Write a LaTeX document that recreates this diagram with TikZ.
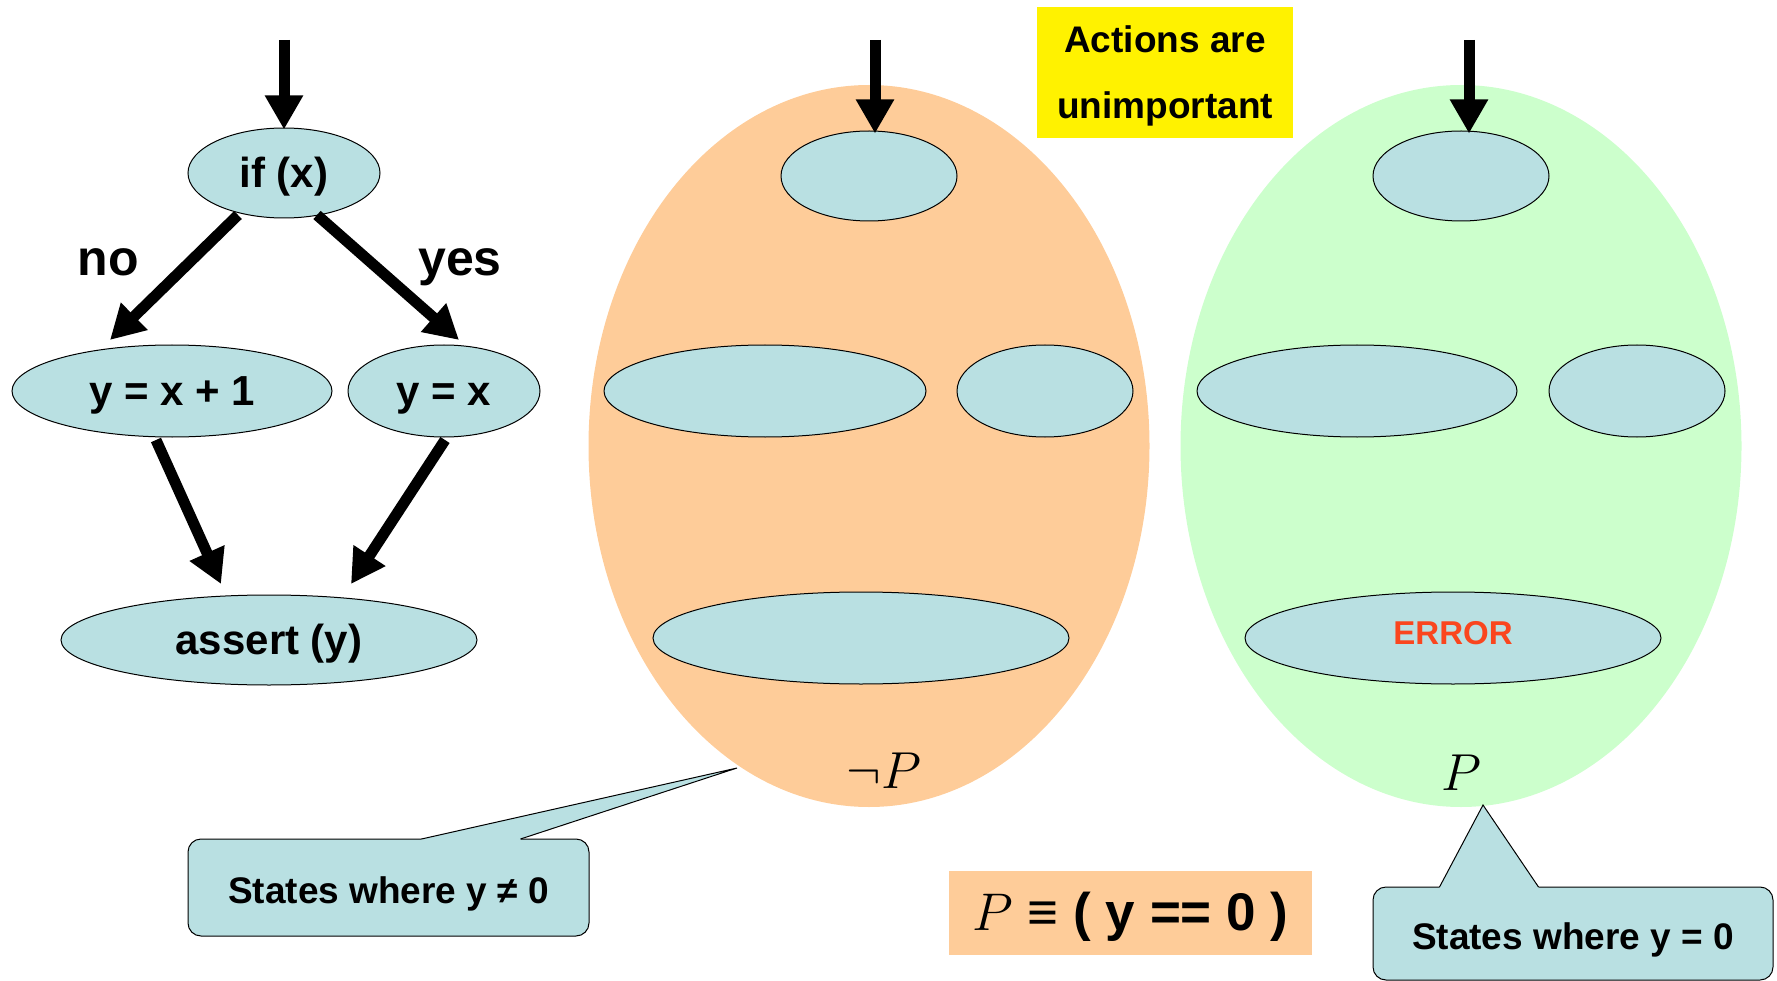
\RequirePackage{fix-cm}
\documentclass[tikz,border=0pt]{standalone}
\usepackage{fontspec}
\setmainfont{Liberation Sans}
\usetikzlibrary{arrows.meta,calc,shapes.geometric}
\definecolor{nodeblue}{RGB}{185,224,226}
\definecolor{peach}{RGB}{254,204,153}
\definecolor{mint}{RGB}{204,255,204}
\definecolor{errred}{RGB}{250,70,30}
\tikzset{
  state/.style={ellipse, draw=black, line width=1pt, fill=nodeblue, inner sep=0pt,
    font=\fontsize{42}{50}\selectfont\bfseries, text height=29pt, text depth=0pt},
  region/.style={ellipse, inner sep=0pt, minimum width=561pt, minimum height=722pt},
  arr/.style={-{Triangle[length=34pt,width=36pt]}, line width=11pt},
  lbl/.style={font=\fontsize{50}{60}\selectfont\bfseries, anchor=base},
  mlbl/.style={font=\fontsize{52}{60}\selectfont},
  callbox/.style={draw=black, line width=1pt, fill=nodeblue, rounded corners=13pt,
    font=\fontsize{37}{44}\selectfont\bfseries, inner sep=0pt, text height=32pt, text depth=0pt},
  ptr/.style={line width=1pt, line join=miter}
}
\begin{document}
\begin{tikzpicture}[x=1pt,y=-1pt]
\useasboundingbox (0,0) rectangle (1777,981);

% ---- left program graph ----
\node[state, minimum width=192pt, minimum height=90pt] (if) at (284,173) {if (x)};
\node[state, minimum width=320pt, minimum height=92pt] (n1) at (172,391) {y = x + 1};
\node[state, minimum width=192pt, minimum height=92pt] (n2) at (444,391) {y = x};
\node[state, minimum width=416pt, minimum height=90pt] (asrt) at (269,640) {assert (y)};
\coordinate (s0) at (284,40);
\draw[arr] (s0) -- ($(if.north)+(0,2)$);
\draw[arr] ($(if)+(-46,42)$) -- ($(n1)+(-62,-51)$);
\draw[arr] ($(if)+(33,42)$) -- ($(n2)+(15,-51)$);
\draw[arr] ($(n1)+(-16,49)$) -- ($(asrt)+(-48,-56)$);
\draw[arr] ($(n2)+(1,49)$) -- ($(asrt)+(82,-56)$);
\node[lbl] (no) at (108,276) {no};
\node[lbl] (yes) at (460,276) {yes};

% ---- middle (not P) ----
\node[region, fill=peach] (neg) at (869,446) {};
\node[state, minimum width=176pt, minimum height=90pt] (m1) at (869,176) {};
\node[state, minimum width=322pt, minimum height=92pt] (m2) at (765,391) {};
\node[state, minimum width=176pt, minimum height=92pt] (m3) at (1045,391) {};
\node[state, minimum width=416pt, minimum height=92pt] (m4) at (861,638) {};
\coordinate (s1) at (875,40);
\draw[arr] (s1) -- ($(m1.north)+(6,3)$);
\node[mlbl] (negl) at (884,771) {$\neg P$};

% ---- right (P) ----
\node[region, fill=mint] (pos) at (1461,446) {};
\node[state, minimum width=176pt, minimum height=90pt] (r1) at (1461,176) {};
\node[state, minimum width=320pt, minimum height=92pt] (r2) at (1357,391) {};
\node[state, minimum width=176pt, minimum height=92pt] (r3) at (1637,391) {};
\node[state, minimum width=416pt, minimum height=92pt,
      font=\fontsize{33}{40}\selectfont\bfseries, text=errred,
      text height=24pt, text depth=11.4pt] (r4) at (1453,638) {ERROR};
\coordinate (s2) at (1469,40);
\draw[arr] (s2) -- ($(r1.north)+(8,3)$);
\node[mlbl] (posl) at (1461,773) {$P$};

% ---- yellow note ----
\node[fill=yellow, minimum width=256pt, minimum height=131pt, inner sep=0pt, align=center,
      text depth=0pt, font=\fontsize{37}{66}\selectfont\bfseries] (note) at (1165,72.5) {Actions are\\unimportant};

% ---- definition box ----
\node[fill=peach, minimum width=363pt, minimum height=84pt, inner sep=0pt, text depth=4pt,
      font=\fontsize{53}{60}\selectfont\bfseries] (def) at (1130.5,913) {$P$ ≡ ( y == 0 )};

% ---- left callout ----
\node[callbox, minimum width=401pt, minimum height=97pt] (cl) at (388.5,887.5) {States where y ≠ 0};
\coordinate (tl) at (737,768);
\coordinate (cl1) at ($(cl.north west)+(234,0.5)$);
\coordinate (cl2) at ($(cl.north west)+(333,0.5)$);
\fill[nodeblue] (cl1) -- (tl) -- (cl2) -- ($(cl2)+(0,3)$) -- ($(cl1)+(0,3)$) -- cycle;
\draw[ptr] (cl1) -- (tl) -- (cl2);

% ---- right callout ----
\node[callbox, minimum width=400pt, minimum height=93pt] (cr) at (1573,933.5) {States where y = 0};
\coordinate (tr) at (1483,805);
\coordinate (cr1) at ($(cr.north west)+(67,0.5)$);
\coordinate (cr2) at ($(cr.north west)+(166,0.5)$);
\fill[nodeblue] (cr1) -- (tr) -- (cr2) -- ($(cr2)+(0,3)$) -- ($(cr1)+(0,3)$) -- cycle;
\draw[ptr] (cr1) -- (tr) -- (cr2);
\end{tikzpicture}
\end{document}
